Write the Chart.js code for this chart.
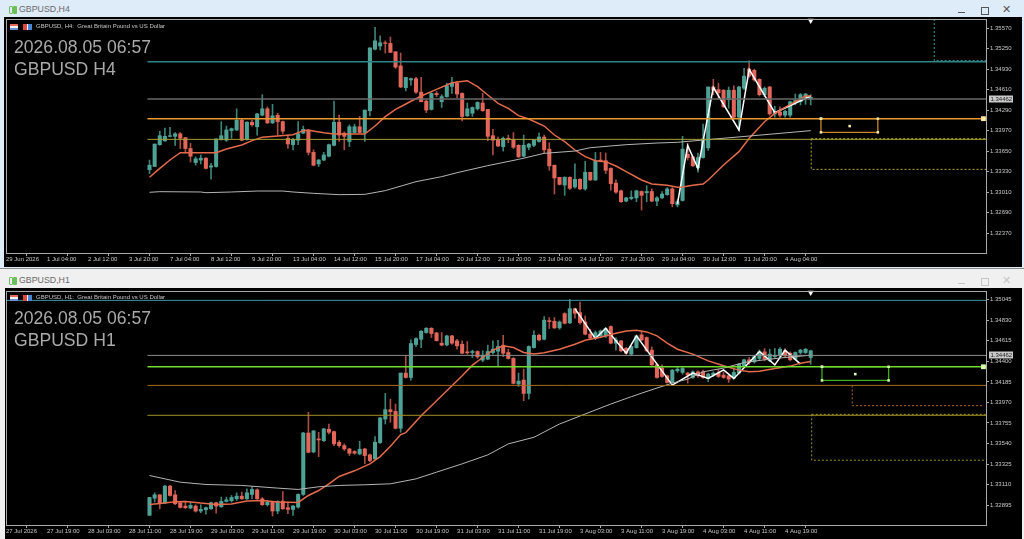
<!DOCTYPE html>
<html>
<head>
<meta charset="utf-8">
<title>GBPUSD</title>
<script src="https://cdn.jsdelivr.net/npm/chart.js@4"></script>
<style>
  html, body { margin: 0; padding: 0; background: #e8eff6; }
  body { position: relative; width: 1024px; height: 539px; overflow: hidden; font-family: "Liberation Sans", Arial, sans-serif; }
  .bar { position: absolute; left: 0; width: 1024px; }
  .client { position: absolute; background: #000; }
  canvas { position: absolute; left: 0; }
  .win-title { position: absolute; left: 19px; font-size: 8.8px; color: #6a6a6a; }
  .app-icon { position: absolute; left: 9px; width: 2px; height: 6px; border: 1px solid #6cbf5a; border-radius: 1px; box-shadow: 4px 0 0 0 #6cbf5a; }
  .sym { position: absolute; left: 36px; font-size: 6px; color: #c4c4c4; white-space: pre; }
  .flag { position: absolute; left: 10px; width: 8px; height: 6px; background: linear-gradient(#e56a5c 0 33%, #f2f2f2 33% 66%, #6d8fd6 66%); }
  .ico { position: absolute; left: 23px; width: 9px; height: 6px; background: linear-gradient(90deg, #e0483c 0 40%, #f4f4f4 40% 60%, #4a86d8 60%); }
  .stamp { position: absolute; left: 14px; font-size: 17.6px; line-height: 22px; color: #a9a9a9; white-space: pre; }
  .btn { position: absolute; }
</style>
</head>
<body>
<div class="bar" style="top:0;height:268px;background:#deebf8"></div>
<div class="bar" style="top:268px;height:271px;background:#f0f0f0;border-top:1px solid #8a8a8a;box-sizing:border-box"></div>
<div class="client" style="left:4px;top:17px;width:1018px;height:250px"></div>
<div class="client" style="left:5px;top:288px;width:1017px;height:251px"></div>

<div class="app-icon" style="top:6px"></div>
<div class="win-title" style="top:4px">GBPUSD,H4</div>
<div class="app-icon" style="top:277px"></div>
<div class="win-title" style="top:275px">GBPUSD,H1</div>

<div class="btn" style="left:958px;top:12px;width:7px;height:1px;background:#555"></div>
<div class="btn" style="left:981px;top:7px;width:6px;height:6px;border:1px solid #555"></div>
<div class="btn" style="left:1002px;top:3px;font-size:11px;color:#555">✕</div>
<div class="btn" style="left:958px;top:283px;width:7px;height:1px;background:#c6c6c6"></div>
<div class="btn" style="left:981px;top:278px;width:6px;height:6px;border:1px solid #c6c6c6"></div>
<div class="btn" style="left:1002px;top:274px;font-size:11px;color:#c6c6c6">✕</div>

<canvas id="chartH4" width="1024" height="268" style="top:0"></canvas>
<canvas id="chartH1" width="1024" height="270" style="top:269px"></canvas>

<div class="flag" style="top:24px"></div>
<div class="ico" style="top:24px"></div>
<div class="sym" style="top:23px">GBPUSD, H4:  Great Britain Pound vs US Dollar</div>
<div class="stamp" style="top:36px">2026.08.05 06:57</div>
<div class="stamp" style="top:58px">GBPUSD H4</div>

<div class="flag" style="top:295px"></div>
<div class="ico" style="top:295px"></div>
<div class="sym" style="top:294px">GBPUSD, H1:  Great Britain Pound vs US Dollar</div>
<div class="stamp" style="top:307px">2026.08.05 06:57</div>
<div class="stamp" style="top:329px">GBPUSD H1</div>

<script>
// H4 candles
const h4Open = [1.3336,1.3341,1.3375,1.3381,1.3388,1.3388,1.3392,1.3386,1.3369,1.3347,1.3351,1.3354,1.3340,1.3341,1.3383,1.3382,1.3397,1.3398,1.3413,1.3383,1.3410,1.3403,1.3421,1.3431,1.3409,1.3421,1.3411,1.3385,1.3375,1.3382,1.3393,1.3398,1.3363,1.3345,1.3351,1.3357,1.3374,1.3410,1.3393,1.3380,1.3394,1.3403,1.3394,1.3428,1.3524,1.3529,1.3534,1.3533,1.3520,1.3498,1.3464,1.3476,1.3478,1.3457,1.3443,1.3430,1.3455,1.3442,1.3450,1.3466,1.3471,1.3455,1.3420,1.3424,1.3431,1.3440,1.3430,1.3389,1.3383,1.3372,1.3385,1.3383,1.3374,1.3357,1.3371,1.3374,1.3380,1.3387,1.3368,1.3343,1.3324,1.3312,1.3324,1.3309,1.3321,1.3306,1.3332,1.3320,1.3351,1.3350,1.3338,1.3315,1.3303,1.3287,1.3291,1.3292,1.3302,1.3300,1.3302,1.3287,1.3292,1.3297,1.3306,1.3281,1.3288,1.3360,1.3356,1.3339,1.3355,1.3370,1.3465,1.3461,1.3460,1.3445,1.3460,1.3418,1.3463,1.3493,1.3491,1.3477,1.3453,1.3465,1.3423,1.3426,1.3421,1.3421,1.3441,1.3442,1.3449,1.3446];
const h4High = [1.3351,1.3376,1.3396,1.3401,1.3402,1.3394,1.3394,1.3386,1.3377,1.3356,1.3359,1.3355,1.3346,1.3384,1.3411,1.3404,1.3401,1.3431,1.3415,1.3411,1.3413,1.3424,1.3453,1.3434,1.3438,1.3424,1.3412,1.3390,1.3385,1.3411,1.3404,1.3399,1.3367,1.3352,1.3363,1.3376,1.3443,1.3421,1.3395,1.3406,1.3407,1.3419,1.3429,1.3526,1.3558,1.3545,1.3537,1.3543,1.3520,1.3518,1.3480,1.3479,1.3480,1.3480,1.3445,1.3456,1.3458,1.3453,1.3471,1.3480,1.3474,1.3456,1.3440,1.3434,1.3442,1.3455,1.3430,1.3399,1.3387,1.3387,1.3390,1.3394,1.3375,1.3390,1.3377,1.3383,1.3393,1.3390,1.3378,1.3343,1.3324,1.3325,1.3325,1.3345,1.3322,1.3349,1.3332,1.3363,1.3363,1.3362,1.3339,1.3320,1.3304,1.3293,1.3303,1.3304,1.3303,1.3311,1.3306,1.3294,1.3302,1.3308,1.3308,1.3289,1.3388,1.3377,1.3357,1.3362,1.3407,1.3465,1.3477,1.3471,1.3461,1.3465,1.3467,1.3466,1.3494,1.3506,1.3493,1.3478,1.3465,1.3466,1.3435,1.3434,1.3429,1.3443,1.3454,1.3455,1.3455,1.3453];
const h4Low = [1.3330,1.3341,1.3374,1.3380,1.3387,1.3374,1.3369,1.3362,1.3348,1.3343,1.3345,1.3337,1.3321,1.3340,1.3382,1.3380,1.3385,1.3397,1.3381,1.3382,1.3404,1.3390,1.3420,1.3408,1.3408,1.3390,1.3392,1.3369,1.3367,1.3375,1.3392,1.3359,1.3342,1.3341,1.3350,1.3356,1.3373,1.3380,1.3367,1.3372,1.3393,1.3393,1.3380,1.3420,1.3523,1.3523,1.3518,1.3519,1.3494,1.3464,1.3459,1.3468,1.3455,1.3442,1.3425,1.3429,1.3450,1.3433,1.3449,1.3455,1.3448,1.3412,1.3419,1.3419,1.3429,1.3427,1.3381,1.3359,1.3372,1.3365,1.3378,1.3369,1.3355,1.3356,1.3367,1.3372,1.3379,1.3362,1.3335,1.3298,1.3312,1.3296,1.3305,1.3307,1.3305,1.3304,1.3319,1.3319,1.3348,1.3330,1.3304,1.3299,1.3285,1.3286,1.3289,1.3286,1.3273,1.3286,1.3286,1.3280,1.3291,1.3296,1.3278,1.3278,1.3287,1.3351,1.3341,1.3332,1.3354,1.3366,1.3453,1.3447,1.3433,1.3432,1.3417,1.3397,1.3461,1.3480,1.3474,1.3451,1.3450,1.3421,1.3418,1.3418,1.3418,1.3418,1.3437,1.3437,1.3438,1.3437];
const h4Close = [1.3343,1.3376,1.3389,1.3388,1.3389,1.3392,1.3385,1.3369,1.3357,1.3353,1.3354,1.3338,1.3342,1.3384,1.3389,1.3398,1.3400,1.3413,1.3382,1.3410,1.3406,1.3423,1.3431,1.3409,1.3420,1.3411,1.3396,1.3376,1.3383,1.3392,1.3399,1.3363,1.3343,1.3351,1.3359,1.3375,1.3410,1.3390,1.3388,1.3403,1.3403,1.3394,1.3429,1.3526,1.3537,1.3534,1.3533,1.3519,1.3496,1.3465,1.3480,1.3478,1.3457,1.3442,1.3429,1.3455,1.3453,1.3450,1.3467,1.3471,1.3454,1.3419,1.3431,1.3433,1.3441,1.3428,1.3388,1.3382,1.3373,1.3385,1.3383,1.3371,1.3356,1.3374,1.3376,1.3382,1.3387,1.3367,1.3342,1.3323,1.3313,1.3324,1.3307,1.3321,1.3306,1.3332,1.3320,1.3350,1.3349,1.3335,1.3314,1.3301,1.3286,1.3292,1.3293,1.3303,1.3296,1.3302,1.3287,1.3292,1.3298,1.3306,1.3283,1.3286,1.3368,1.3355,1.3342,1.3355,1.3384,1.3465,1.3460,1.3456,1.3434,1.3460,1.3418,1.3465,1.3482,1.3482,1.3476,1.3453,1.3463,1.3423,1.3427,1.3421,1.3427,1.3442,1.3444,1.3453,1.3454,1.3449];

// H4 moving averages and zigzag, sampled at the bars where they were read
const h4FastBars = [0,2,4,6,11,13,15,18,20,22,25,28,30,31,34,36,42,44,46,48,50,53,56,59,62,64,66,68,70,72,74,77,79,81,83,85,87,89,91,93,96,98,101,103,104,106,108,109,112,115,117,120,122,124,126,128,129];
const h4FastValues = [1.33241,1.33381,1.33511,1.33625,1.33625,1.33625,1.33683,1.33745,1.33813,1.33865,1.33885,1.33906,1.33969,1.33974,1.33937,1.33917,1.33917,1.34041,1.34187,1.34301,1.34385,1.34509,1.34613,1.34717,1.34749,1.34655,1.34525,1.34395,1.34317,1.34203,1.34151,1.34041,1.33901,1.33797,1.33667,1.33563,1.33501,1.33485,1.33417,1.33329,1.33199,1.33137,1.33116,1.33085,1.33090,1.33116,1.33137,1.33199,1.33433,1.33641,1.33849,1.34109,1.34239,1.34333,1.34421,1.34509,1.34509];
const h4SlowBars = [0,2,10,11,16,21,26,28,32,37,42,46,52,57,60,66,72,77,83,86,93,99,103,108,117,129];
const h4SlowValues = [1.33007,1.33017,1.33012,1.33001,1.33012,1.33027,1.33027,1.33012,1.32991,1.32970,1.32975,1.33033,1.33173,1.33251,1.33313,1.33423,1.33521,1.33615,1.33651,1.33703,1.33750,1.33776,1.33787,1.33823,1.33885,1.33969];
const h4ZigBars = [103,105,107,110,115,117,122,129];
const h4ZigValues = [1.32825,1.33735,1.33381,1.34645,1.33979,1.34925,1.34249,1.34509];

const h4TickBars = [-28,-20,-12,-4,4,12,20,28,36,44,52,60,68,76,84,92,100,108,116,124];
const h4TickLabels = ['29 Jun 2026','1 Jul 04:00','2 Jul 12:00','3 Jul 20:00','7 Jul 04:00','8 Jul 12:00','9 Jul 20:00','13 Jul 04:00','14 Jul 12:00','15 Jul 20:00','17 Jul 04:00','20 Jul 12:00','21 Jul 20:00','23 Jul 04:00','24 Jul 12:00','27 Jul 20:00','29 Jul 04:00','30 Jul 12:00','31 Jul 20:00','4 Aug 04:00'];
const h4PriceTicks = [1.35570,1.35250,1.34930,1.34610,1.34290,1.33970,1.33650,1.33330,1.33010,1.32690,1.32370];

// H1 candles
const h1Open = [1.32788,1.32968,1.33003,1.32916,1.33094,1.33003,1.32920,1.32885,1.32864,1.32885,1.32833,1.32847,1.32857,1.32920,1.32878,1.32934,1.32941,1.32961,1.32989,1.32961,1.33007,1.33055,1.32961,1.32899,1.32927,1.32833,1.32937,1.32868,1.32850,1.32875,1.33007,1.33650,1.33452,1.33588,1.33570,1.33689,1.33664,1.33553,1.33518,1.33483,1.33456,1.33431,1.33483,1.33421,1.33379,1.33549,1.33796,1.33894,1.33876,1.33699,1.34277,1.34231,1.34576,1.34631,1.34701,1.34746,1.34697,1.34590,1.34572,1.34666,1.34614,1.34579,1.34499,1.34492,1.34503,1.34412,1.34423,1.34492,1.34506,1.34569,1.34492,1.34430,1.34162,1.34204,1.34064,1.34544,1.34673,1.34631,1.34826,1.34819,1.34750,1.34899,1.34802,1.34951,1.34910,1.34812,1.34684,1.34642,1.34666,1.34666,1.34764,1.34590,1.34614,1.34537,1.34475,1.34544,1.34677,1.34649,1.34517,1.34363,1.34329,1.34249,1.34179,1.34301,1.34284,1.34277,1.34231,1.34290,1.34290,1.34221,1.34256,1.34277,1.34256,1.34249,1.34224,1.34277,1.34353,1.34416,1.34395,1.34430,1.34499,1.34405,1.34450,1.34464,1.34510,1.34485,1.34423,1.34492,1.34492,1.34440];
const h1High = [1.32975,1.33024,1.33003,1.33101,1.33101,1.33048,1.32927,1.32937,1.32927,1.32899,1.32899,1.32875,1.32927,1.32927,1.32979,1.32979,1.32996,1.33024,1.33031,1.33066,1.33090,1.33066,1.32975,1.32944,1.32934,1.32941,1.33038,1.32927,1.32892,1.33014,1.33657,1.33866,1.33678,1.33657,1.33699,1.33744,1.33671,1.33570,1.33536,1.33490,1.33466,1.33563,1.33490,1.33428,1.33612,1.33814,1.34064,1.34005,1.33953,1.34277,1.34464,1.34624,1.34645,1.34722,1.34753,1.34753,1.34704,1.34701,1.34673,1.34673,1.34631,1.34614,1.34607,1.34517,1.34510,1.34510,1.34569,1.34614,1.34621,1.34673,1.34527,1.34440,1.34277,1.34318,1.34562,1.34718,1.34684,1.34868,1.34858,1.34858,1.34823,1.34910,1.35049,1.34958,1.35021,1.34875,1.34736,1.34718,1.34729,1.34753,1.34771,1.34649,1.34621,1.34544,1.34562,1.34673,1.34718,1.34656,1.34551,1.34370,1.34363,1.34256,1.34315,1.34336,1.34336,1.34284,1.34301,1.34301,1.34308,1.34277,1.34290,1.34318,1.34290,1.34256,1.34318,1.34377,1.34423,1.34440,1.34464,1.34520,1.34534,1.34527,1.34534,1.34544,1.34534,1.34499,1.34499,1.34527,1.34534,1.34517];
const h1Low = [1.32788,1.32927,1.32857,1.32909,1.32989,1.32899,1.32864,1.32857,1.32857,1.32822,1.32815,1.32801,1.32850,1.32812,1.32871,1.32927,1.32927,1.32944,1.32955,1.32955,1.32961,1.32955,1.32892,1.32885,1.32781,1.32805,1.32850,1.32805,1.32788,1.32864,1.32996,1.33442,1.33442,1.33403,1.33560,1.33640,1.33518,1.33501,1.33466,1.33414,1.33428,1.33421,1.33327,1.33351,1.33372,1.33542,1.33744,1.33762,1.33692,1.33657,1.34224,1.34204,1.34555,1.34544,1.34694,1.34649,1.34611,1.34562,1.34562,1.34576,1.34527,1.34478,1.34475,1.34440,1.34430,1.34395,1.34416,1.34475,1.34353,1.34450,1.34423,1.34162,1.34137,1.33988,1.34005,1.34537,1.34614,1.34624,1.34743,1.34743,1.34736,1.34791,1.34795,1.34851,1.34788,1.34677,1.34631,1.34631,1.34656,1.34649,1.34583,1.34517,1.34499,1.34475,1.34464,1.34537,1.34617,1.34503,1.34357,1.34224,1.34231,1.34172,1.34172,1.34284,1.34266,1.34172,1.34221,1.34231,1.34221,1.34186,1.34242,1.34231,1.34221,1.34179,1.34214,1.34266,1.34343,1.34370,1.34381,1.34416,1.34405,1.34398,1.34440,1.34450,1.34447,1.34405,1.34416,1.34475,1.34482,1.34370];
const h1Close = [1.32975,1.33003,1.32916,1.33094,1.32996,1.32909,1.32871,1.32868,1.32892,1.32833,1.32850,1.32868,1.32920,1.32885,1.32934,1.32951,1.32975,1.32989,1.32961,1.33024,1.33059,1.32961,1.32899,1.32927,1.32833,1.32934,1.32857,1.32850,1.32885,1.33007,1.33650,1.33448,1.33671,1.33577,1.33692,1.33657,1.33536,1.33518,1.33483,1.33438,1.33438,1.33480,1.33414,1.33362,1.33553,1.33807,1.33894,1.33873,1.33699,1.34277,1.34231,1.34586,1.34638,1.34715,1.34746,1.34691,1.34617,1.34569,1.34666,1.34590,1.34562,1.34485,1.34489,1.34503,1.34447,1.34464,1.34503,1.34527,1.34555,1.34485,1.34430,1.34169,1.34193,1.34064,1.34555,1.34673,1.34624,1.34830,1.34816,1.34750,1.34812,1.34798,1.34951,1.34903,1.34805,1.34684,1.34642,1.34701,1.34718,1.34743,1.34590,1.34624,1.34510,1.34485,1.34555,1.34666,1.34624,1.34510,1.34363,1.34231,1.34242,1.34179,1.34308,1.34318,1.34325,1.34256,1.34290,1.34249,1.34231,1.34266,1.34277,1.34242,1.34231,1.34214,1.34284,1.34370,1.34416,1.34388,1.34450,1.34499,1.34423,1.34475,1.34464,1.34527,1.34457,1.34416,1.34492,1.34517,1.34527,1.34510];

const h1FastBars = [0,2,5,7,10,13,16,19,22,25,29,31,33,35,37,40,43,45,47,49,50,53,56,59,61,63,65,67,69,71,73,75,77,80,83,85,88,91,93,95,97,99,101,103,106,109,112,115,117,119,122,125,127,129];
const h1FastValues = [1.32902,1.32913,1.32930,1.32934,1.32916,1.32902,1.32906,1.32937,1.32944,1.32927,1.32923,1.32996,1.33048,1.33118,1.33195,1.33254,1.33327,1.33403,1.33511,1.33633,1.33654,1.33831,1.33988,1.34144,1.34249,1.34360,1.34440,1.34517,1.34562,1.34544,1.34492,1.34478,1.34489,1.34527,1.34579,1.34621,1.34652,1.34694,1.34718,1.34725,1.34708,1.34666,1.34590,1.34527,1.34475,1.34405,1.34353,1.34308,1.34290,1.34297,1.34325,1.34350,1.34381,1.34398];
const h1SlowBars = [0,6,11,18,25,29,33,37,42,47,52,56,61,66,70,75,80,85,90,94,98,102,105,108,112,116,120,124,129];
const h1SlowValues = [1.33205,1.33135,1.33111,1.33101,1.33073,1.33059,1.33087,1.33101,1.33108,1.33118,1.33170,1.33240,1.33327,1.33421,1.33536,1.33605,1.33744,1.33849,1.33953,1.34030,1.34103,1.34172,1.34214,1.34290,1.34329,1.34388,1.34416,1.34440,1.34464];
const h1ZigBars = [83,87,89,93,95,102,106,109,112,114,119,122,124,127];
const h1ZigValues = [1.34951,1.34638,1.34746,1.34485,1.34666,1.34151,1.34277,1.34221,1.34311,1.34221,1.34503,1.34363,1.34517,1.34371];

const h1TickBars = [-28,-20,-12,-4,4,12,20,28,36,44,52,60,68,76,84,92,100,108,116,124];
const h1TickLabels = ['27 Jul 2026','27 Jul 19:00','28 Jul 03:00','28 Jul 11:00','28 Jul 19:00','29 Jul 03:00','29 Jul 11:00','29 Jul 19:00','30 Jul 03:00','30 Jul 11:00','30 Jul 19:00','31 Jul 03:00','31 Jul 11:00','31 Jul 19:00','3 Aug 03:00','3 Aug 11:00','3 Aug 19:00','4 Aug 03:00','4 Aug 11:00','4 Aug 19:00'];
const h1PriceTicks = [1.35045,1.34830,1.34615,1.34400,1.34185,1.33970,1.33755,1.33540,1.33325,1.33110,1.32895];

const bidPrice = 1.34462;
const lastBar = 129;
const TEAL = '#4fa396', RED = '#e2675a';

// [value, colour, width, first bar]
const h4Levels = [
  [1.35045, '#2f8585', 1.5, -0.4],
  [1.34462, '#6a6a6a', 1.5, -0.4],
  [1.34156, '#e8982c', 1.5, -0.4],
  [1.33833, '#a5a032', 1, -0.4]
];
const h1Levels = [
  [1.35038, '#3c98a4', 1, -28],
  [1.34462, '#8c8c8c', 1, -0.4],
  [1.34343, '#72dc2c', 1.5, -0.4],
  [1.34148, '#a86a1e', 1, -0.4],
  [1.33835, '#a39223', 1, -0.4]
];
// dotted boxes: [[bar, value], ...], colour
const h4Dotted = [
  [[[153.1, 1.3571], [153.1, 1.35061], [163.2, 1.35061]], '#33a0a8'],
  [[[129.1, 1.33844], [163.2, 1.33844]], '#b5a52c'],
  [[[129.1, 1.33844], [129.1, 1.33365], [163.2, 1.33365]], '#b5a52c']
];
const h1Dotted = [
  [[[137.1, 1.34148], [137.1, 1.33936], [162.7, 1.33936]], '#a86a1e'],
  [[[129.2, 1.33845], [163.1, 1.33845]], '#a39223'],
  [[[129.2, 1.33845], [129.2, 1.33365], [163.1, 1.33365]], '#a39223']
];
// selected rectangle with its handles
const h4Box = { corners: [[131, 1.34156], [142.1, 1.34156], [142.1, 1.33943], [131, 1.33943], [131, 1.34156]], middle: [136.6, 1.3404], end: [162.7, 1.34156], line: '#c9892a', handle: '#ffe9a8' };
const h1Box = { corners: [[131.2, 1.34343], [144.2, 1.34343], [144.2, 1.342], [131.2, 1.342], [131.2, 1.34343]], middle: [137.7, 1.34266], end: [162.7, 1.34343], line: '#3fae1e', handle: '#d8ffb0' };

function toPoints(xs, ys) {
  return xs.map(function (x, i) { return { x: x, y: ys[i] }; });
}

function lineSet(points, colour, width, dash) {
  return { type: 'line', data: points, borderColor: colour, borderWidth: width, borderDash: dash || [], pointRadius: 0, tension: 0, order: 1 };
}

const framePlugin = {
  id: 'frame',
  afterDraw: function (chart) {
    const ctx = chart.ctx, a = chart.chartArea;
    ctx.save();
    ctx.strokeStyle = '#a8a8a8';
    ctx.lineWidth = 1;
    ctx.strokeRect(a.left + 0.5, a.top + 0.5, a.right - a.left, a.bottom - a.top);
    // price tag on the axis
    const y = Math.round(chart.scales.y.getPixelForValue(bidPrice));
    ctx.fillStyle = '#c9c9c9';
    ctx.fillRect(989, y - 3.5, 24, 7);
    ctx.fillStyle = '#222';
    ctx.font = '6px "Liberation Sans"';
    ctx.textBaseline = 'middle';
    ctx.fillText(bidPrice.toFixed(5), 990.5, y + 0.5);
    ctx.restore();
  }
};

function drawChart(id, o) {
  const bars = o.open.map(function (v, i) { return i; });
  const isUp = o.open.map(function (v, i) { return o.close[i] >= v; });
  const datasets = [];

  datasets.push({
    type: 'bar', grouped: false, order: 5, barThickness: 1,
    data: bars.map(function (i) { return { x: i, y: [o.low[i], o.high[i]] }; }),
    backgroundColor: isUp.map(function (u) { return u ? '#3c8378' : '#a84d43'; })
  });
  datasets.push({
    type: 'bar', grouped: false, order: 4, barThickness: 3.4,
    data: bars.map(function (i) { return { x: i, y: [Math.min(o.open[i], o.close[i]), Math.max(o.open[i], o.close[i])] }; }),
    backgroundColor: isUp.map(function (u) { return u ? TEAL : RED; })
  });

  o.levels.forEach(function (l) {
    datasets.push(lineSet([{ x: l[3], y: l[0] }, { x: 163.2, y: l[0] }], l[1], l[2]));
  });
  o.dotted.forEach(function (d) {
    datasets.push(lineSet(d[0].map(function (p) { return { x: p[0], y: p[1] }; }), d[1], 1, [2, 2]));
  });
  datasets.push(lineSet(o.box.corners.map(function (p) { return { x: p[0], y: p[1] }; }), o.box.line, 1.3));
  datasets.push({
    type: 'line', showLine: false, order: 0,
    data: o.box.corners.concat([o.box.middle]).map(function (p) { return { x: p[0], y: p[1] }; }),
    pointStyle: 'rect', pointRadius: 1.8, pointBackgroundColor: o.box.handle, pointBorderWidth: 0
  });
  datasets.push({
    type: 'line', showLine: false, order: 0,
    data: [{ x: o.box.end[0], y: o.box.end[1] }],
    pointStyle: 'rect', pointRadius: 3.4, pointBackgroundColor: o.box.handle, pointBorderWidth: 0
  });
  datasets.push(lineSet(toPoints(o.slowBars, o.slowValues), '#b4b4b4', 1));
  datasets.push(lineSet(toPoints(o.fastBars, o.fastValues), '#e36b4c', 1.5));
  datasets.push(lineSet(toPoints(o.zigBars, o.zigValues), '#ffffff', 1.5));
  // marker of the last bar on the top edge
  datasets.push({
    type: 'line', showLine: false, order: 0, clip: false,
    data: [{ x: lastBar, y: o.yMax - (o.yMax - o.yMin) * 0.006 }],
    pointStyle: 'triangle', rotation: 180, pointRadius: 3.5, pointBackgroundColor: '#ffffff', pointBorderWidth: 0
  });

  return new Chart(document.getElementById(id).getContext('2d'), {
    data: { datasets: datasets },
    plugins: [framePlugin],
    options: {
      responsive: false,
      animation: false,
      layout: { padding: { left: 6, top: o.top, right: 0, bottom: 0 } },
      plugins: { legend: { display: false }, tooltip: { enabled: false } },
      scales: {
        x: {
          type: 'linear', offset: false, min: -28, max: 163.2,
          afterFit: function (s) { s.height = o.axisHeight; },
          afterBuildTicks: function (s) { s.ticks = o.tickBars.map(function (v) { return { value: v }; }); },
          border: { color: '#a8a8a8' },
          grid: { drawOnChartArea: false, color: '#a8a8a8', tickLength: 3 },
          ticks: {
            autoSkip: false, maxRotation: 0, minRotation: 0, align: 'start', padding: 0,
            color: '#c6c6c6', font: { family: 'Liberation Sans', size: 6 },
            callback: function (v, i) { return o.tickLabels[i]; }
          }
        },
        y: {
          position: 'right', min: o.yMin, max: o.yMax,
          afterFit: function (s) { s.width = 38; },
          afterBuildTicks: function (s) { s.ticks = o.priceTicks.map(function (v) { return { value: v }; }); },
          border: { color: '#a8a8a8' },
          grid: { drawOnChartArea: false, color: '#a8a8a8', tickLength: 3 },
          ticks: {
            autoSkip: false, padding: 1,
            color: '#c6c6c6', font: { family: 'Liberation Sans', size: 6 },
            callback: function (v) { return v.toFixed(5); }
          }
        }
      }
    }
  });
}

document.addEventListener('DOMContentLoaded', function () {
  drawChart('chartH4', {
    open: h4Open, high: h4High, low: h4Low, close: h4Close,
    fastBars: h4FastBars, fastValues: h4FastValues,
    slowBars: h4SlowBars, slowValues: h4SlowValues,
    zigBars: h4ZigBars, zigValues: h4ZigValues,
    tickBars: h4TickBars, tickLabels: h4TickLabels, priceTicks: h4PriceTicks,
    levels: h4Levels, dotted: h4Dotted, box: h4Box,
    yMin: 1.3206, yMax: 1.35711, top: 19, axisHeight: 15
  });
  drawChart('chartH1', {
    open: h1Open, high: h1High, low: h1Low, close: h1Close,
    fastBars: h1FastBars, fastValues: h1FastValues,
    slowBars: h1SlowBars, slowValues: h1SlowValues,
    zigBars: h1ZigBars, zigValues: h1ZigValues,
    tickBars: h1TickBars, tickLabels: h1TickLabels, priceTicks: h1PriceTicks,
    levels: h1Levels, dotted: h1Dotted, box: h1Box,
    yMin: 1.32687, yMax: 1.35136, top: 22, axisHeight: 14
  });
});
</script>
</body>
</html>
